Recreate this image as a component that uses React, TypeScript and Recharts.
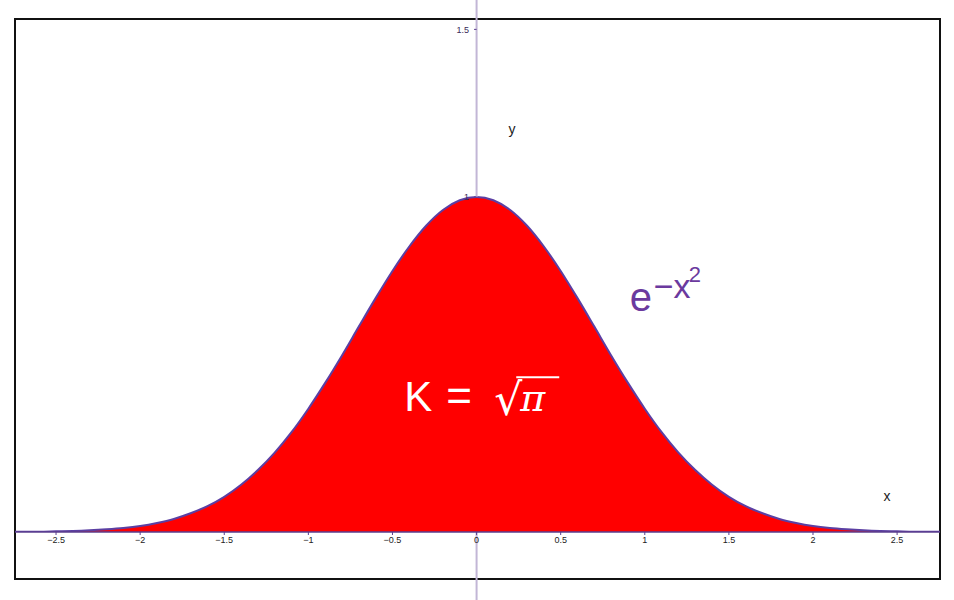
import React from 'react';
import { ComposedChart, Area, XAxis, YAxis, ReferenceLine, ReferenceDot } from 'recharts';

const xValues = [-2.744, -2.7, -2.6, -2.5, -2.4, -2.3, -2.2, -2.1, -2.0, -1.9, -1.8, -1.7, -1.6, -1.5, -1.4, -1.3, -1.2, -1.1, -1.0, -0.9, -0.8, -0.7, -0.6, -0.5, -0.4, -0.3, -0.2, -0.1, 0, 0.1, 0.2, 0.3, 0.4, 0.5, 0.6, 0.7, 0.8, 0.9, 1.0, 1.1, 1.2, 1.3, 1.4, 1.5, 1.6, 1.7, 1.8, 1.9, 2.0, 2.1, 2.2, 2.3, 2.4, 2.5, 2.6, 2.7, 2.755];
const yValues = [0.0005, 0.001, 0.001, 0.002, 0.003, 0.005, 0.008, 0.012, 0.018, 0.027, 0.039, 0.056, 0.077, 0.105, 0.141, 0.185, 0.237, 0.298, 0.368, 0.445, 0.527, 0.613, 0.698, 0.779, 0.852, 0.914, 0.961, 0.990, 1.000, 0.990, 0.961, 0.914, 0.852, 0.779, 0.698, 0.613, 0.527, 0.445, 0.368, 0.298, 0.237, 0.185, 0.141, 0.105, 0.077, 0.056, 0.039, 0.027, 0.018, 0.012, 0.008, 0.005, 0.003, 0.002, 0.001, 0.001, 0.0005];
const xTicks = [-2.5, -2, -1.5, -1, -0.5, 0, 0.5, 1, 1.5, 2, 2.5];
const yTickLabels = [
  { value: 1.5, label: '1.5' },
  { value: 1, label: '1' },
];
const xDomain = [-2.744, 2.755];
const yDomain = [0, 1.531];

const data = xValues.map((x, i) => ({ x, y: yValues[i] }));

const fmt = (v: number) => (v < 0 ? '\u2212' + Math.abs(v) : String(v));

const FONT = '"Liberation Sans", Arial, sans-serif';

const FuncLabel = (props: any) => {
  const vb = props.viewBox || {};
  const x = vb.x ?? vb.cx ?? 0;
  const y = vb.y ?? vb.cy ?? 0;
  return (
    <g fill="#6b3a9e" fontFamily={FONT}>
      <text x={x} y={y} fontSize={40}>e</text>
      <text x={x + 24} y={y - 13} fontSize={34}>{'\u2212x'}</text>
      <text x={x + 59} y={y - 29} fontSize={22}>2</text>
    </g>
  );
};

const KLabel = (props: any) => {
  const vb = props.viewBox || {};
  const x = vb.x ?? vb.cx ?? 0;
  const y = vb.y ?? vb.cy ?? 0;
  return (
    <g fill="#ffffff" fontFamily={FONT}>
      <text x={x} y={y} fontSize={42}>K</text>
      <text x={x + 42} y={y} fontSize={44}>=</text>
      <text x={x + 90} y={y + 4} fontSize={44} fontFamily='"DejaVu Serif", serif'>{'\u221A'}</text>
      <line x1={x + 112} y1={y - 34} x2={x + 155} y2={y - 34} stroke="#ffffff" strokeWidth={2} />
      <text x={x + 116} y={y} fontSize={38} fontStyle="italic" fontFamily='"DejaVu Serif", serif'>{'\u03C0'}</text>
    </g>
  );
};

const AxisName = (props: any) => {
  const vb = props.viewBox || {};
  const x = vb.x ?? vb.cx ?? 0;
  const y = vb.y ?? vb.cy ?? 0;
  return (
    <text x={x} y={y} fontSize={14} fill="#222" fontFamily={FONT} textAnchor="middle">{props.text}</text>
  );
};

export default function App() {
  return (
    <div style={{ position: 'absolute', left: 0, top: 0, width: 954, height: 600, background: '#fff' }}>
      <div
        style={{
          position: 'absolute',
          left: 14,
          top: 18,
          width: 927,
          height: 562,
          border: '2px solid #111',
          boxSizing: 'border-box',
        }}
      />
      <div style={{ position: 'absolute', left: 0, top: 0 }}>
        <ComposedChart
          width={954}
          height={600}
          data={data}
          margin={{ top: 19, left: 15, right: 14, bottom: 38 }}
        >
          <XAxis
            dataKey="x"
            type="number"
            domain={xDomain}
            ticks={xTicks}
            tickFormatter={fmt}
            allowDataOverflow
            height={30}
            axisLine={{ stroke: '#5a3e8e', strokeWidth: 1.5 }}
            tickLine={{ stroke: '#5a3e8e' }}
            tickSize={3}
            tick={{ fontSize: 9, fill: '#222', fontFamily: FONT }}
          />
          <YAxis type="number" domain={yDomain} allowDataOverflow hide />
          <ReferenceLine
            segment={[{ x: 0, y: 1.0 }, { x: 0, y: 1.6 }]}
            stroke="#c2b6d6"
            strokeWidth={2}
            ifOverflow="visible"
          />
          <ReferenceLine
            segment={[{ x: 0, y: -0.21 }, { x: 0, y: 0 }]}
            stroke="#c2b6d6"
            strokeWidth={2}
            ifOverflow="visible"
          />
          {yTickLabels.map((t) => (
            <ReferenceLine
              key={t.label}
              segment={[{ x: -0.015, y: t.value }, { x: 0, y: t.value }]}
              stroke="#5a3e8e"
              strokeWidth={1}
              ifOverflow="visible"
              label={{ value: t.label, position: 'left', fontSize: 9, fill: '#3a2a5a', fontFamily: FONT }}
            />
          ))}
          <Area
            type="monotone"
            dataKey="y"
            baseValue={0}
            fill="#ff0000"
            fillOpacity={1}
            stroke="#5b3fa3"
            strokeWidth={2}
            isAnimationActive={false}
            dot={false}
            activeDot={false}
          />
          <ReferenceDot x={0.21} y={1.188} r={0} fill="none" stroke="none" ifOverflow="visible" label={<AxisName text="y" />} />
          <ReferenceDot x={2.44} y={0.094} r={0} fill="none" stroke="none" ifOverflow="visible" label={<AxisName text="x" />} />
          <ReferenceDot x={0.91} y={0.66} r={0} fill="none" stroke="none" ifOverflow="visible" label={<FuncLabel />} />
          <ReferenceDot x={-0.43} y={0.36} r={0} fill="none" stroke="none" ifOverflow="visible" label={<KLabel />} />
        </ComposedChart>
      </div>
    </div>
  );
}
